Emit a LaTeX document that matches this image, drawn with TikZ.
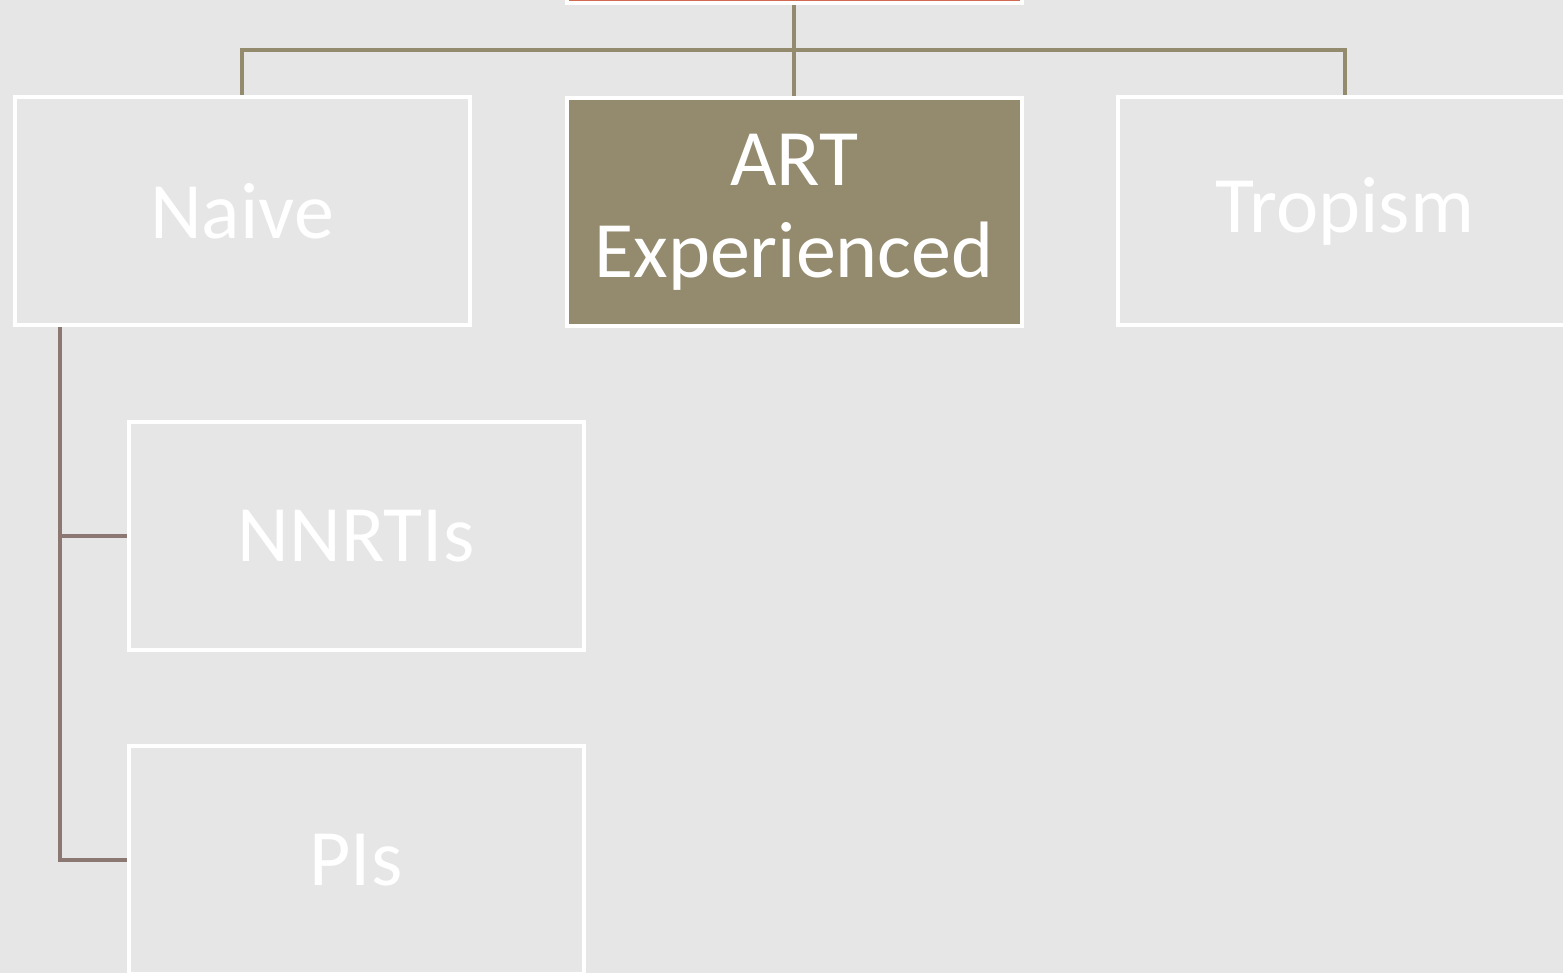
\documentclass[tikz,border=0pt]{standalone}
\usepackage{fontspec}
\setmainfont{Carlito}
\usetikzlibrary{backgrounds}
\definecolor{bgcol}{HTML}{E6E6E6}
\definecolor{olive}{HTML}{948B6E}
\definecolor{mauve}{HTML}{8C7873}
\definecolor{topcol}{HTML}{D06A50}
\tikzset{
  box/.style={draw=white, line width=3pt, rectangle, minimum width=341.25pt,
    minimum height=171pt, inner sep=0pt, text=white, align=center,
    font=\fontsize{60}{69}\selectfont},
  link/.style={line width=3.2pt},
}
\begin{document}
\begin{tikzpicture}[x=0.75pt, y=-0.75pt]
  \useasboundingbox (0,0) rectangle (1563,973);
  \clip (0,0) rectangle (1563,973);

  % boxes
  \node[box, fill=topcol]  (top)  at (794,-110.5) {};
  \node[box, fill=bgcol]   (naive) at (242,211) {Naive};
  \node[box, fill=olive]   (art)   at (794,212) {ART\\Experienced};
  \node[box, fill=bgcol]   (trop)  at (1345,211) {Tropism};
  \node[box, fill=bgcol]   (nnrti) at (356,536) {NNRTIs};
  \node[box, fill=bgcol]   (pis)   at (356,860) {PIs};

  \coordinate (bus) at (794,50);
  \coordinate (spine) at (60,0);

  \begin{scope}[on background layer]
    \fill[bgcol] (0,0) rectangle (1563,973);
    % first level connectors
    \draw[link, olive] (top.south) -- (art.north);
    \draw[link, olive] (naive.north) |- (bus) -| (trop.north);
    % second level connectors
    \draw[link, mauve] (naive.south -| spine) |- (pis.west);
    \draw[link, mauve] (nnrti.west) -- (nnrti.west -| spine);
  \end{scope}
\end{tikzpicture}
\end{document}
